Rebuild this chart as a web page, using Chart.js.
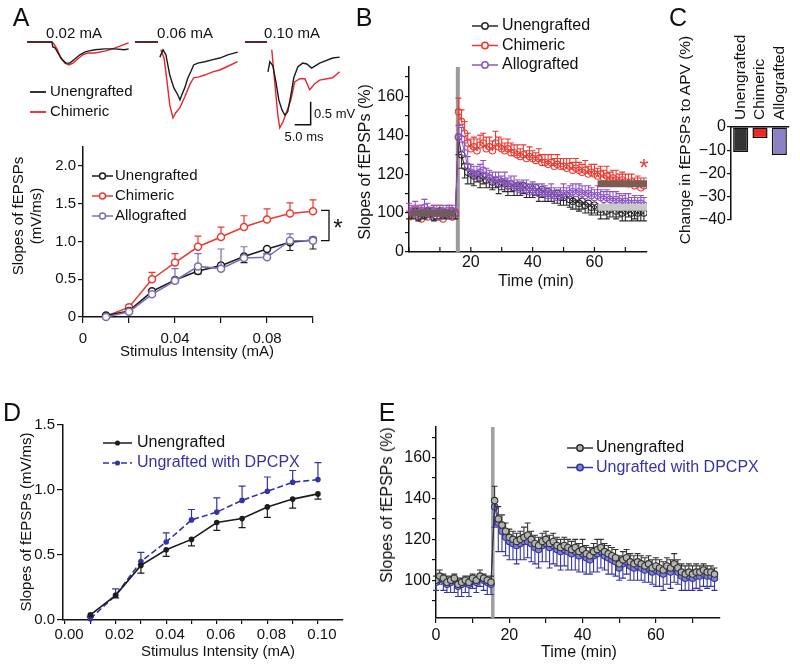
<!DOCTYPE html>
<html>
<head>
<meta charset="utf-8">
<script src="https://cdn.jsdelivr.net/npm/chart.js@4.4.1/dist/chart.umd.min.js"></script>
<style>
  body { margin: 0; background: #fff; }
  #fig { position: relative; width: 800px; height: 665px; overflow: hidden; font-family: 'Liberation Sans', Arial, sans-serif; color: #111; }
  #fig canvas { position: absolute; left: 0; top: 0; }
  .t { position: absolute; white-space: nowrap; line-height: 1; }
</style>
</head>
<body>
<div id="fig">
  <canvas id="tr1" width="800" height="665"></canvas>
  <canvas id="tr2" width="800" height="665"></canvas>
  <canvas id="tr3" width="800" height="665"></canvas>
  <canvas id="chartA" width="800" height="665"></canvas>
  <canvas id="chartB" width="800" height="665"></canvas>
  <canvas id="chartC" width="800" height="665"></canvas>
  <canvas id="chartD" width="800" height="665"></canvas>
  <canvas id="chartE" width="800" height="665"></canvas>
</div>
<script>
// ---- data ----

// panel A, example traces (time in ms, voltage in mV, null = blanked stimulus artifact)
const T1_BLK_MS = [0, 7.8, 8.1, 8.8, 9.7, 10.9, 12.2, 13.4, 15.0, 16.6, 18.1, 19.1, 21.3, 24.4, 27.5, 30.6, 31.9];
const T1_BLK_MV = [0, 0, -0.11, -0.13, -0.24, -0.37, -0.46, -0.46, -0.37, -0.28, -0.22, -0.20, -0.17, -0.15, -0.15, -0.17, -0.15];
const T1_RED_MS = [0, 7.8, 8.4, 9.4, 10.6, 11.9, 13.1, 14.4, 15.9, 17.5, 19.1, 21.3, 24.4, 26.9, 29.1, 31.9];
const T1_RED_MV = [0, 0, -0.04, -0.15, -0.35, -0.46, -0.50, -0.46, -0.37, -0.28, -0.24, -0.24, -0.20, -0.15, -0.09, -0.02];

const T2_BLK_MS = [0, 7.2, 7.5, 7.8, 8.8, 9.7, 10.9, 12.2, 13.4, 14.1, 14.7, 15.6, 16.6, 17.5, 18.4, 19.7, 21.9, 24.1, 26.6, 29.1, 32.2];
const T2_BLK_MV = [0, 0, null, -0.33, -0.17, -0.28, -0.72, -1.00, -1.15, -1.26, -1.15, -1.00, -0.78, -0.65, -0.50, -0.46, -0.43, -0.39, -0.35, -0.28, -0.22];
const T2_RED_MS = [0, 7.2, 7.6, 8.1, 9.1, 10.0, 10.9, 11.9, 12.8, 14.1, 15.6, 17.2, 18.4, 20.0, 21.9, 24.4, 26.6, 28.8, 32.2];
const T2_RED_MV = [0, 0, null, -0.17, -0.35, -0.83, -1.37, -1.65, -1.54, -1.43, -1.20, -0.93, -0.78, -0.76, -0.72, -0.65, -0.61, -0.54, -0.43];

const T3_BLK_MS = [0, 6.9, 7.0, 7.2, 7.8, 8.75, 9.7, 10.6, 11.6, 12.5, 13.4, 14.4, 15.3, 16.6, 18.1, 19.4, 20.9, 23.4, 27.5, 29.7];
const T3_BLK_MV = [0, 0, null, -0.65, -0.43, -0.52, -0.87, -1.26, -1.48, -1.59, -1.52, -1.15, -0.78, -0.54, -0.46, -0.48, -0.57, -0.46, -0.35, -0.33];
const T3_RED_MS = [0, 6.9, 7.5, 8.4, 9.4, 10.3, 10.9, 11.9, 13.1, 14.4, 15.6, 17.2, 18.8, 20.3, 21.9, 23.4, 27.5, 29.7];
const T3_RED_MV = [0, 0, null, -0.17, -0.93, -1.59, -1.87, -1.74, -1.52, -1.26, -0.87, -0.80, -0.80, -1.04, -0.91, -0.83, -0.78, -0.65];

// panel A, input/output curves
const A_STIM = [0.01, 0.02, 0.03, 0.04, 0.05, 0.06, 0.07, 0.08, 0.09, 0.10];
const A_UNENG = [0.02, 0.08, 0.34, 0.49, 0.61, 0.68, 0.80, 0.90, 0.99, 1.02];
const A_UNENG_SEM = [0.01, 0.02, 0.04, 0.04, 0.04, 0.04, 0.08, 0.06, 0.11, 0.12];
const A_CHIM = [0.01, 0.13, 0.50, 0.72, 0.93, 1.06, 1.19, 1.29, 1.37, 1.40];
const A_CHIM_SEM = [0.01, 0.03, 0.09, 0.12, 0.14, 0.13, 0.15, 0.14, 0.14, 0.15];
const A_ALLO = [0.00, 0.07, 0.30, 0.48, 0.67, 0.64, 0.78, 0.79, 1.01, 1.01];
const A_ALLO_SEM = [0.01, 0.02, 0.04, 0.16, 0.17, 0.26, 0.15, 0.05, 0.09, 0.05];
const A_X_TICKS = [0, 0.02, 0.04, 0.06, 0.08, 0.10];
const A_X_LABELS = ['0', '', '0.04', '', '0.08', ''];
const A_Y_TICKS = [0, 0.5, 1, 1.5, 2];
const A_Y_LABELS = ['0', '0.5', '1.0', '1.5', '2.0'];

// panels B and E, time courses (one point per minute)
const MINUTES = [0,1,2,3,4,5,6,7,8,9,10,11,12,13,14,15,16,17,18,19,20,21,22,23,24,25,26,27,28,29,30,31,32,33,34,35,36,37,38,
  39,40,41,42,43,44,45,46,47,48,49,50,51,52,53,54,55,56,57,58,59,60,61,62,63,64,65,66,67,68,69,70,71,72,73,74,75,76];

const B_UNENG = [99,100,101,98,100,99,101,100,98,100,101,99,100,99,101,100,
  139,130,124,121,120,119,120,118,119,117,
  118,116,117,115,116,115,114,115,113,114,
  113,114,112,113,112,113,111,112,110,111,
  110,109,110,108,108,109,107,106,107,105,
  106,104,105,103,104,103,102,103,101,102,
  103,101,102,100,101,102,100,101,100,101,
  100];
const B_UNENG_SEM = [2,3,2,2,3,2,3,2,2,3,2,2,3,2,2,3,
  9,7,6,6,5,5,4,5,4,4,
  5,4,4,5,4,4,5,4,4,5,
  4,4,4,5,4,4,5,4,4,5,
  4,4,5,4,4,5,4,4,5,4,
  4,4,5,4,4,4,5,4,4,4,
  5,4,4,4,5,4,4,4,4,5,
  4];
const B_CHIM = [98,100,99,101,97,100,98,99,101,98,100,97,99,100,98,99,
  152,147,141,136,133,134,132,135,136,133,
  134,132,136,134,133,132,133,131,131,130,
  129,130,128,129,128,127,128,126,126,125,
  126,124,125,124,124,123,124,122,123,122,
  121,122,120,121,120,119,120,118,119,117,
  118,117,116,117,116,115,116,114,115,113,
  114];
const B_CHIM_SEM = [3,4,3,3,4,3,3,4,3,3,4,3,3,4,3,3,
  7,6,6,5,5,5,6,5,5,6,
  5,5,6,5,5,4,5,5,4,5,
  4,5,4,5,4,4,5,4,4,5,
  4,4,5,4,4,5,4,4,5,4,
  4,5,4,4,5,4,4,4,5,4,
  4,5,4,4,4,5,4,4,4,5,
  4];
const B_ALLO = [101,100,102,99,101,103,100,99,101,100,98,101,100,99,101,100,
  139,138,131,124,121,120,119,121,122,119,
  118,117,116,117,115,116,114,115,114,113,
  112,113,112,111,112,111,110,111,110,109,
  110,109,108,109,110,109,110,111,110,111,
  110,109,110,109,108,109,108,107,108,107,
  106,107,106,105,106,105,104,105,104,105,
  104];
const B_ALLO_SEM = [4,3,4,4,3,4,5,4,3,4,4,3,4,4,3,4,
  6,6,5,5,4,4,5,4,5,4,
  4,4,5,4,4,5,4,4,5,4,
  4,4,5,4,4,4,5,4,4,4,
  5,4,4,4,5,4,4,4,5,4,
  4,5,4,4,4,5,4,4,4,4,
  5,4,4,4,4,5,4,4,4,4,
  4];
// mean bars drawn over the baseline and the last 15 min
const B_BAR_START = [0.5, 61, 61];
const B_BAR_END = [15, 77, 77];
const B_BAR_LEVEL = [100, 115, 103];
const B_HFS_MIN = 15.8;
const B_X_TICKS = [0, 10, 20, 30, 40, 50, 60, 70];
const B_X_LABELS = ['', '', '20', '', '40', '', '60', ''];
const B_Y_TICKS = [80, 90, 100, 110, 120, 130, 140, 150, 160, 170];
const B_Y_LABELS = ['0', '', '100', '', '120', '', '140', '', '160', ''];

// panel C
const C_GROUPS = ['Unengrafted', 'Chimeric', 'Allografted'];
const C_CHANGE = [-10.7, -4.7, -12.0];
const C_Y_TICKS = [-40, -30, -20, -10, 0];
const C_Y_LABELS = ['\u221240', '\u221230', '\u221220', '\u221210', '0'];

// panel D
const D_STIM = [0.01, 0.02, 0.03, 0.04, 0.05, 0.06, 0.07, 0.08, 0.09, 0.10];
const D_UNENG = [0.04, 0.19, 0.42, 0.54, 0.62, 0.75, 0.78, 0.87, 0.93, 0.97];
const D_UNENG_SEM = [0.01, 0.02, 0.06, 0.05, 0.05, 0.06, 0.07, 0.08, 0.07, 0.04];
const D_DPCPX = [0.01, 0.19, 0.45, 0.60, 0.77, 0.83, 0.92, 0.99, 1.06, 1.08];
const D_DPCPX_SEM = [0.01, 0.05, 0.07, 0.07, 0.08, 0.11, 0.11, 0.11, 0.09, 0.13];
const D_X_TICKS = [0, 0.01, 0.02, 0.03, 0.04, 0.05, 0.06, 0.07, 0.08, 0.09, 0.10];
const D_X_LABELS = ['0.00', '', '0.02', '', '0.04', '', '0.06', '', '0.08', '', '0.10'];
const D_Y_TICKS = [0, 0.5, 1, 1.5];
const D_Y_LABELS = ['0.0', '0.5', '1.0', '1.5'];

// panel E
const E_UNENG = [100,102,101,99,100,101,98,99,100,99,101,100,102,101,100,99,
  139,130,127,124,121,120,119,120,121,122,
  120,118,117,119,120,118,119,117,116,117,
  116,115,116,114,115,113,112,114,115,116,
  114,113,112,111,108,110,111,109,108,109,
  108,107,108,106,107,106,105,107,106,108,
  106,104,103,104,103,104,104,105,104,104,
  103];
const E_UNENG_SEM = [2,3,2,3,2,2,3,2,2,3,2,2,3,2,2,3,
  7,6,5,4,4,4,4,4,5,6,
  4,4,4,4,4,4,4,4,4,4,
  4,4,4,4,5,4,4,4,5,4,
  4,4,4,4,4,4,4,4,4,4,
  4,4,4,4,4,4,4,4,4,5,
  4,4,4,4,4,4,3,3,3,3,
  3];
const E_DPCPX = [99,101,100,98,99,100,97,98,99,98,100,99,101,100,99,98,
  136,128,124,121,119,118,117,118,119,119,
  118,116,115,117,118,116,117,115,114,115,
  114,113,114,112,113,111,110,112,113,114,
  112,111,110,109,106,108,109,107,106,107,
  106,105,106,104,105,104,103,105,104,106,
  104,102,101,102,101,102,102,103,102,102,
  101];
const E_DPCPX_SEM = [4,3,5,4,5,6,5,6,5,6,4,5,4,5,6,5,
  10,14,10,9,9,8,9,8,9,8,
  9,8,9,8,9,10,9,8,9,8,
  9,8,9,8,9,8,7,8,9,8,
  7,8,7,7,6,7,6,7,6,7,
  6,6,7,6,8,7,8,7,8,7,
  6,7,6,7,6,6,7,6,6,5,
  6];
const E_HFS_MIN = 15.5;
const E_X_TICKS = [0, 10, 20, 30, 40, 50, 60, 70];
const E_X_LABELS = ['0', '', '20', '', '40', '', '60', ''];
const E_Y_TICKS = [90, 100, 110, 120, 130, 140, 150, 160, 170];
const E_Y_LABELS = ['', '100', '', '120', '', '140', '', '160', ''];

// ---- drawing ----
Chart.defaults.font.family = "'Liberation Sans', Arial, sans-serif";
Chart.defaults.color = '#111';
Chart.defaults.animation = false;
Chart.defaults.plugins.legend.display = false;
Chart.defaults.plugins.tooltip.enabled = false;

const W = 800, H = 665;
const FONT = "'Liberation Sans', Arial, sans-serif";
const RED = '#ec3a31', BLK = '#1c1c1c', PURPLE_A = '#7e6fb2', PURPLE_B = '#8d55c6', BLUE = '#3434a6';

function pts(xs, ys) {
  return xs.map((x, i) => ({ x: x, y: ys[i] }));
}

// chart area given in page pixels; every canvas covers the whole figure
function layoutFor(area, yW, xH, xTop) {
  return {
    autoPadding: false,
    padding: {
      left: area.l - yW, right: W - area.r,
      top: area.t - (xTop ? xH : 0), bottom: H - area.b - (xTop ? 0 : xH)
    }
  };
}

function axis(o) {
  const ax = {
    type: o.type || 'linear',
    position: o.position,
    afterFit: s => {
      if (o.w != null) s.width = o.w;
      if (o.h != null) s.height = o.h;
    },
    ticks: {
      display: o.tickLabels !== false,
      autoSkip: false, maxRotation: 0, minRotation: 0,
      padding: o.pad == null ? 3 : o.pad, labelOffset: o.labelOffset || 0,
      color: '#111', font: { size: o.font || 15 }
    },
    grid: {
      display: o.grid !== false, drawOnChartArea: false,
      drawTicks: o.tickLen !== 0, tickLength: o.tickLen == null ? 5 : o.tickLen,
      color: '#111', lineWidth: 1.2
    },
    border: { display: true, color: '#111', width: 1.5 }
  };
  if (o.min != null) ax.min = o.min;
  if (o.max != null) ax.max = o.max;
  if (o.ticks) ax.afterBuildTicks = s => { s.ticks = o.ticks.map(v => ({ value: v })); };
  if (o.labels) ax.ticks.callback = (v, i) => o.labels[i];
  return ax;
}

// error bars: dataset.errUp / dataset.errDown arrays in data units
Chart.register({
  id: 'errorBars',
  beforeDatasetDraw(chart, args) {
    const ds = chart.data.datasets[args.index];
    if (!ds.errUp && !ds.errDown) return;
    const ys = chart.scales.y, ctx = chart.ctx, cap = ds.errCap || 3;
    ctx.save();
    ctx.strokeStyle = ds.errColor || ds.borderColor;
    ctx.lineWidth = ds.errWidth || 1.2;
    ctx.beginPath();
    args.meta.data.forEach((pt, i) => {
      const v = ds.data[i].y;
      if (v == null) return;
      [[ds.errUp, 1], [ds.errDown, -1]].forEach(([arr, sgn]) => {
        if (!arr || arr[i] == null) return;
        const yEnd = ys.getPixelForValue(v + sgn * arr[i]);
        ctx.moveTo(pt.x, pt.y); ctx.lineTo(pt.x, yEnd);
        ctx.moveTo(pt.x - cap, yEnd); ctx.lineTo(pt.x + cap, yEnd);
      });
    });
    ctx.stroke();
    ctx.restore();
  }
});

function keyPlugin(cfg) {
  return {
    id: 'key',
    afterDraw(chart) {
      const ctx = chart.ctx;
      ctx.save();
      cfg.items.forEach((it, i) => {
        const y = cfg.y + i * cfg.step;
        ctx.strokeStyle = it.color;
        ctx.lineWidth = it.lineWidth || 1.5;
        ctx.setLineDash(it.dash || []);
        ctx.beginPath(); ctx.moveTo(cfg.x, y); ctx.lineTo(cfg.x + cfg.len, y); ctx.stroke();
        ctx.setLineDash([]);
        if (it.radius) {
          ctx.beginPath();
          ctx.arc(cfg.x + cfg.len / 2, y, it.radius, 0, Math.PI * 2);
          ctx.fillStyle = it.fill || '#fff';
          ctx.fill(); ctx.stroke();
        }
        ctx.fillStyle = it.textColor || '#111';
        ctx.font = cfg.font;
        ctx.textAlign = 'left';
        ctx.textBaseline = 'middle';
        ctx.fillText(it.label, cfg.x + cfg.len + (cfg.gap || 3), y);
      });
      ctx.restore();
    }
  };
}

function hfsPlugin(t, width, color) {
  return {
    id: 'hfs',
    beforeDatasetsDraw(chart) {
      const { ctx, chartArea, scales } = chart;
      const x = scales.x.getPixelForValue(t);
      ctx.save();
      ctx.fillStyle = color;
      ctx.fillRect(x - width / 2, chartArea.top, width, chartArea.bottom - chartArea.top);
      ctx.restore();
    }
  };
}

function innerTicksPlugin(len) {
  return {
    id: 'innerTicks',
    afterDraw(chart) {
      const s = chart.scales.x, ctx = chart.ctx;
      ctx.save();
      ctx.strokeStyle = '#111'; ctx.lineWidth = 1.2;
      ctx.beginPath();
      s.ticks.forEach(t => {
        const x = s.getPixelForValue(t.value);
        ctx.moveTo(x, s.top); ctx.lineTo(x, s.top - len);
      });
      ctx.stroke();
      ctx.restore();
    }
  };
}

// vertical category names standing on the top axis of panel C
function uprightLabelsPlugin(gap, size) {
  return {
    id: 'uprightLabels',
    afterDraw(chart) {
      const { ctx, scales, chartArea } = chart;
      ctx.save();
      ctx.fillStyle = '#111';
      ctx.font = size + 'px ' + FONT;
      ctx.textAlign = 'left';
      ctx.textBaseline = 'middle';
      chart.data.labels.forEach((lab, i) => {
        ctx.save();
        ctx.translate(scales.x.getPixelForValue(i), chartArea.top - gap);
        ctx.rotate(-Math.PI / 2);
        ctx.fillText(lab, 0, 0);
        ctx.restore();
      });
      ctx.restore();
    }
  };
}

function bracketPlugin(xv, y1, y2) {
  return {
    id: 'bracket',
    afterDraw(chart) {
      const { ctx, scales } = chart;
      const x0 = scales.x.getPixelForValue(xv) + 8, x1 = x0 + 8;
      const p1 = scales.y.getPixelForValue(y1), p2 = scales.y.getPixelForValue(y2);
      ctx.save();
      ctx.strokeStyle = '#111'; ctx.lineWidth = 1.3;
      ctx.beginPath();
      ctx.moveTo(x0, p1); ctx.lineTo(x1, p1); ctx.lineTo(x1, p2); ctx.lineTo(x0, p2);
      ctx.stroke();
      ctx.restore();
    }
  };
}

function scaleBarPlugin(t0, v0, dt, dv) {
  return {
    id: 'scaleBar',
    afterDraw(chart) {
      const { ctx, scales } = chart;
      const xa = scales.x.getPixelForValue(t0), xb = scales.x.getPixelForValue(t0 + dt);
      const ya = scales.y.getPixelForValue(v0), yb = scales.y.getPixelForValue(v0 + dv);
      ctx.save();
      ctx.strokeStyle = '#111'; ctx.lineWidth = 1.5;
      ctx.beginPath();
      ctx.moveTo(xa, ya); ctx.lineTo(xb, ya); ctx.lineTo(xb, yb);
      ctx.stroke();
      ctx.restore();
    }
  };
}

// ---- panel A traces ----
function traceChart(id, left, blkT, blkV, redT, redV, extraPlugins) {
  return new Chart(document.getElementById(id), {
    type: 'line',
    data: {
      datasets: [
        { data: pts(blkT, blkV), borderColor: BLK, borderWidth: 1.4, pointRadius: 0, clip: false, order: 0 },
        { data: pts(redT, redV), borderColor: '#e8262b', borderWidth: 1.4, pointRadius: 0, clip: false, order: 1 }
      ]
    },
    options: {
      responsive: false, spanGaps: false,
      layout: layoutFor({ l: left, t: 30, r: left + 102, b: 132 }, 0, 0, false),
      scales: {
        x: { type: 'linear', display: false, min: 0, max: 32 },
        y: { display: false, min: -1.96, max: 0.26 }
      }
    },
    plugins: extraPlugins || []
  });
}

traceChart('tr1', 27, T1_BLK_MS, T1_BLK_MV, T1_RED_MS, T1_RED_MV, [keyPlugin({
  x: 30, y: 92, step: 20, len: 16, gap: 4, font: '15px ' + FONT,
  items: [
    { label: 'Unengrafted', color: BLK, lineWidth: 1.8 },
    { label: 'Chimeric', color: '#e8262b', lineWidth: 1.8 }
  ]
})]);
traceChart('tr2', 135, T2_BLK_MS, T2_BLK_MV, T2_RED_MS, T2_RED_MV);
traceChart('tr3', 245, T3_BLK_MS, T3_BLK_MV, T3_RED_MS, T3_RED_MV, [scaleBarPlugin(15.6, -1.8, 5, 0.5)]);

// ---- panel A input/output ----
function ioSet(label, xs, ys, sem, dir, color, order) {
  const ds = {
    label: label, data: pts(xs, ys), borderColor: color, borderWidth: 1.6,
    pointRadius: 3.5, pointBorderWidth: 1.5, pointBackgroundColor: '#fff',
    errColor: color, errCap: 3.5, clip: false, order: order
  };
  ds[dir] = sem;
  return ds;
}

new Chart(document.getElementById('chartA'), {
  type: 'line',
  data: {
    datasets: [
      ioSet('Unengrafted', A_STIM, A_UNENG, A_UNENG_SEM, 'errDown', BLK, 1),
      ioSet('Chimeric', A_STIM, A_CHIM, A_CHIM_SEM, 'errUp', RED, 2),
      ioSet('Allografted', A_STIM, A_ALLO, A_ALLO_SEM, 'errUp', PURPLE_A, 0)
    ]
  },
  options: {
    responsive: false,
    layout: layoutFor({ l: 83, t: 147, r: 313, b: 317 }, 45, 40, false),
    scales: {
      x: axis({ min: 0, max: 0.10, ticks: A_X_TICKS, labels: A_X_LABELS, h: 40, tickLen: 6, pad: 7, font: 15 }),
      y: axis({ min: 0, max: 2.25, ticks: A_Y_TICKS, labels: A_Y_LABELS, w: 45, tickLen: 5, pad: 2, font: 15 })
    }
  },
  plugins: [
    bracketPlugin(0.10, 1.41, 1.01),
    keyPlugin({
      x: 92, y: 176, step: 20, len: 21, gap: 2, font: '15px ' + FONT,
      items: [
        { label: 'Unengrafted', color: BLK, radius: 3 },
        { label: 'Chimeric', color: RED, radius: 3 },
        { label: 'Allografted', color: PURPLE_A, radius: 3 }
      ]
    })
  ]
});

// ---- panel B ----
function tcSet(label, ys, sem, dir, color, order, fill) {
  const ds = {
    label: label, data: pts(MINUTES, ys), borderColor: color, borderWidth: 1,
    pointRadius: 3.2, pointBorderWidth: 1.1, pointBackgroundColor: fill || 'rgba(255,255,255,0)',
    errColor: color, errCap: 3, errWidth: 1.1, order: order
  };
  ds[dir] = sem;
  return ds;
}
function meanBar(i, color) {
  return {
    data: [{ x: B_BAR_START[i], y: B_BAR_LEVEL[i] }, { x: B_BAR_END[i], y: B_BAR_LEVEL[i] }],
    borderColor: color, borderWidth: 7, borderCapStyle: 'butt', pointRadius: 0, order: -1
  };
}

new Chart(document.getElementById('chartB'), {
  type: 'line',
  data: {
    datasets: [
      tcSet('Unengrafted', B_UNENG, B_UNENG_SEM, 'errDown', '#2b2b2b', 2),
      tcSet('Chimeric', B_CHIM, B_CHIM_SEM, 'errUp', RED, 3),
      tcSet('Allografted', B_ALLO, B_ALLO_SEM, 'errUp', PURPLE_B, 1),
      meanBar(0, '#6f5d5e'),
      meanBar(1, '#7b5d54'),
      meanBar(2, '#c9c9c9')
    ]
  },
  options: {
    responsive: false,
    layout: layoutFor({ l: 409, t: 67, r: 647, b: 252 }, 45, 40, false),
    scales: {
      x: axis({ min: 0, max: 77, ticks: B_X_TICKS, labels: B_X_LABELS, h: 40, tickLen: 0, pad: 1, font: 16 }),
      y: axis({ min: 80, max: 175, ticks: B_Y_TICKS, labels: B_Y_LABELS, w: 45, tickLen: 4, pad: 1, font: 16 })
    }
  },
  plugins: [
    hfsPlugin(B_HFS_MIN, 4, '#9b9b9b'),
    innerTicksPlugin(5),
    keyPlugin({
      x: 472, y: 26, step: 19.5, len: 26, gap: 4, font: '16px ' + FONT,
      items: [
        { label: 'Unengrafted', color: '#2b2b2b', radius: 3.2 },
        { label: 'Chimeric', color: RED, radius: 3.2 },
        { label: 'Allografted', color: PURPLE_B, radius: 3.2 }
      ]
    })
  ]
});

// ---- panel C ----
new Chart(document.getElementById('chartC'), {
  type: 'bar',
  data: {
    labels: C_GROUPS,
    datasets: [{
      data: C_CHANGE,
      backgroundColor: ['#333333', '#ee2a1f', '#8d80c4'],
      borderColor: '#111', borderWidth: 1.5, borderSkipped: false,
      barPercentage: 0.78, categoryPercentage: 1
    }]
  },
  options: {
    responsive: false,
    layout: layoutFor({ l: 731, t: 127, r: 789, b: 220 }, 40, 100, true),
    scales: {
      x: axis({ type: 'category', position: 'top', h: 100, grid: false, tickLabels: false }),
      y: axis({ min: -40, max: 0, ticks: C_Y_TICKS, labels: C_Y_LABELS, w: 40, tickLen: 4, pad: 1, font: 16 })
    }
  },
  plugins: [uprightLabelsPlugin(7, 15.5)]
});

// ---- panel D ----
new Chart(document.getElementById('chartD'), {
  type: 'line',
  data: {
    datasets: [
      { label: 'Unengrafted', data: pts(D_STIM, D_UNENG), borderColor: BLK, borderWidth: 1.6,
        pointRadius: 2, pointBackgroundColor: BLK, errDown: D_UNENG_SEM, errColor: BLK, errCap: 3.5, clip: false, order: 1 },
      { label: 'Ungrafted with DPCPX', data: pts(D_STIM, D_DPCPX), borderColor: BLUE, borderWidth: 1.6, borderDash: [6, 3],
        pointRadius: 2, pointBackgroundColor: BLUE, errUp: D_DPCPX_SEM, errColor: BLUE, errCap: 3.5, clip: false, order: 2 }
    ]
  },
  options: {
    responsive: false,
    layout: layoutFor({ l: 63, t: 425, r: 343, b: 620 }, 45, 40, false),
    scales: {
      x: axis({ min: -0.0008, max: 0.1099, ticks: D_X_TICKS, labels: D_X_LABELS, h: 40, tickLen: 4, pad: 2, labelOffset: 4, font: 15 }),
      y: axis({ min: 0, max: 1.5, ticks: D_Y_TICKS, labels: D_Y_LABELS, w: 45, tickLen: 6, pad: 2, font: 15 })
    }
  },
  plugins: [keyPlugin({
    x: 103, y: 443, step: 20, len: 29, gap: 5, font: '16px ' + FONT,
    items: [
      { label: 'Unengrafted', color: BLK, radius: 1.8, fill: BLK },
      { label: 'Ungrafted with DPCPX', color: BLUE, radius: 1.8, fill: BLUE, dash: [6, 3], textColor: BLUE }
    ]
  })]
});

// ---- panel E ----
new Chart(document.getElementById('chartE'), {
  type: 'line',
  data: {
    datasets: [
      tcSet('Unengrafted', E_UNENG, E_UNENG_SEM, 'errUp', '#333333', 1, '#b4b4b0'),
      tcSet('Ungrafted with DPCPX', E_DPCPX, E_DPCPX_SEM, 'errDown', BLUE, 2, '#8484c4')
    ]
  },
  options: {
    responsive: false,
    layout: layoutFor({ l: 436, t: 427, r: 720, b: 618 }, 45, 40, false),
    scales: {
      x: axis({ min: 0, max: 77.5, ticks: E_X_TICKS, labels: E_X_LABELS, h: 40, tickLen: 5, pad: 3, font: 16 }),
      y: axis({ min: 81.5, max: 175, ticks: E_Y_TICKS, labels: E_Y_LABELS, w: 45, tickLen: 4, pad: 1, font: 16 })
    }
  },
  plugins: [
    hfsPlugin(E_HFS_MIN, 3.5, '#a0a0a0'),
    keyPlugin({
      x: 567, y: 448, step: 19.5, len: 26, gap: 3, font: '16px ' + FONT,
      items: [
        { label: 'Unengrafted', color: '#333333', radius: 3.2, fill: '#b4b4b0' },
        { label: 'Ungrafted with DPCPX', color: BLUE, radius: 3.2, fill: '#8484c4', textColor: BLUE }
      ]
    })
  ]
});

// ---- text around the panels ----
const fig = document.getElementById('fig');
function txt(s, x, y, size, opt) {
  opt = opt || {};
  const d = document.createElement('div');
  d.className = 't';
  d.textContent = s;
  const tr = opt.left ? 'translate(0,-50%)' : 'translate(-50%,-50%)';
  d.style.left = x + 'px';
  d.style.top = y + 'px';
  d.style.fontSize = size + 'px';
  d.style.transform = tr + (opt.rot ? ' rotate(-90deg)' : '');
  if (opt.color) d.style.color = opt.color;
  fig.appendChild(d);
}

txt('A', 21, 17, 25);
txt('B', 364, 17, 25);
txt('C', 678, 17, 25);
txt('D', 12, 412, 25);
txt('E', 387, 412, 25);

txt('0.02 mA', 74, 32, 15);
txt('0.06 mA', 185, 32, 15);
txt('0.10 mA', 292, 32, 15);
txt('0.5 mV', 314, 113, 13, { left: true });
txt('5.0 ms', 304, 136, 13);

txt('Slopes of fEPSPs', 17, 216, 15, { rot: true });
txt('(mV/ms)', 35, 216, 15, { rot: true });
txt('Stimulus Intensity (mA)', 197, 350, 15);
txt('*', 338, 228, 24);

txt('Slopes of fEPSPs (%)', 365, 162, 16, { rot: true });
txt('Time (min)', 536, 281, 16);
txt('*', 644, 168, 24, { color: RED });

txt('Change in fEPSPs to APV (%)', 685, 140, 15.5, { rot: true });

txt('Slopes of fEPSPs (mV/ms)', 25, 522, 15, { rot: true });
txt('Stimulus Intensity (mA)', 218, 650, 15);

txt('Slopes of fEPSPs (%)', 387, 505, 16, { rot: true });
txt('Time (min)', 579, 652, 16);
</script>
</body>
</html>
